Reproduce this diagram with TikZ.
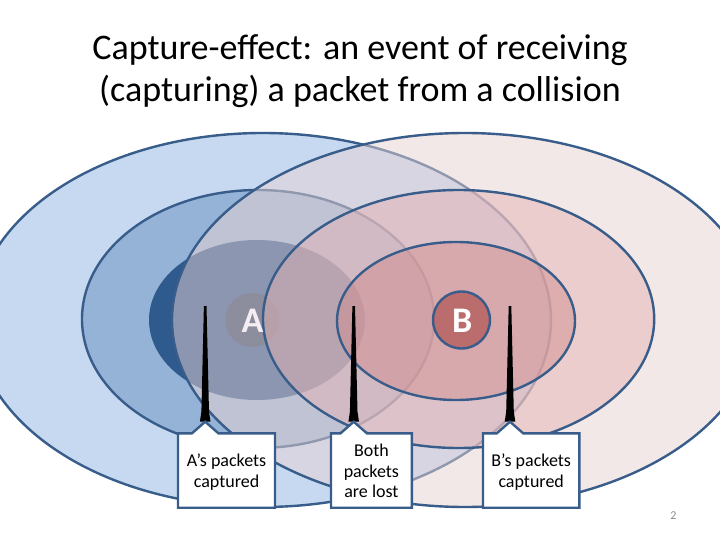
\documentclass[tikz,border=0pt]{standalone}
\usepackage{fontspec}
\setmainfont{Carlito}
\usetikzlibrary{calc}
\definecolor{navy}{HTML}{385D8A}
\definecolor{blueOuter}{HTML}{C6D9F0}
\definecolor{blueMid}{HTML}{95B3D7}
\definecolor{blueInner}{HTML}{2F5A8E}
\definecolor{circA}{HTML}{2F4767}
\definecolor{pinkOuter}{HTML}{E9D3D3}
\definecolor{pinkMid}{HTML}{E4B3B3}
\definecolor{pinkInner}{HTML}{D28E90}
\definecolor{circB}{HTML}{A1322D}
\definecolor{numgray}{HTML}{8B8B8B}
\definecolor{letterA}{HTML}{F4EEF2}
\tikzset{
  ring/.style={draw=navy, line width=2.4pt},
  veil/.style={fill opacity=0.5, draw opacity=1},
  callout/.style={draw=navy, line width=2.4pt, fill=white, line join=miter},
  boxtext/.style={align=center, font=\fontsize{18}{20.8}\selectfont, inner sep=0pt},
  titletext/.style={anchor=base, font=\fontsize{36}{43}\selectfont, inner sep=0pt},
  letter/.style={font=\fontsize{36}{40}\selectfont\bfseries, inner sep=0pt},
  pics/antenna/.style={code={
    \fill[black] (-1.3,-115.7) -- (1.3,-115.7) -- (3.8,-10) -- (5.3,0) -- (-5.3,0) -- (-3.8,-10) -- cycle;
  }}
}
\begin{document}
\begin{tikzpicture}[x=1pt,y=-1pt]
\path[use as bounding box, fill=white] (0,0) rectangle (720,540);
\begin{scope}
\clip (0,0) rectangle (720,540);
% A side (blue)
\path[ring, fill=blueOuter] (263,320) ellipse [x radius=288pt, y radius=187pt];
\path[ring, fill=blueMid] (258,319) ellipse [x radius=176pt, y radius=129pt];
\fill[blueInner] (257,320) ellipse [x radius=108pt, y radius=80pt];
\fill[circA] (252,320) circle [radius=27pt];
% B side (pink, translucent)
\path[ring, veil, fill=pinkOuter] (465,320) ellipse [x radius=293pt, y radius=187pt];
\path[ring, veil, fill=pinkMid] (458.6,319) ellipse [x radius=195.6pt, y radius=129pt];
\path[ring, veil, fill=pinkInner] (456,321) ellipse [x radius=119pt, y radius=79pt];
\path[ring, veil, fill=circB] (461.5,320) circle [radius=28.5pt];
\end{scope}
\node[letter, text=letterA] (la) at (252.5,321.3) {A};
\node[letter, text=white] (lb) at (462.3,320.7) {B};
% titles
\node[titletext] (t1) at (360,59.3) {Capture-effect: an event of receiving};
\node[titletext] (t2) at (360,102) {(capturing) a packet from a collision};
% antennas
\coordinate (apA) at (205.2,421.7);
\coordinate (apC) at (353.7,421.7);
\coordinate (apB) at (510,421.7);
\pic at (apA) {antenna};
\pic at (apC) {antenna};
\pic at (apB) {antenna};
% callouts
\path[callout] (178,433.3) -- ($(apA)+(-13.2,11.6)$) -- (apA) -- ($(apA)+(13.2,11.6)$) -- (275,433.3) -- (275,507.7) -- (178,507.7) -- cycle;
\path[callout] (331,433.3) -- ($(apC)+(-13.2,11.6)$) -- (apC) -- ($(apC)+(13.2,11.6)$) -- (411.8,433.3) -- (411.8,507.7) -- (331,507.7) -- cycle;
\path[callout] (483,433.3) -- ($(apB)+(-13.2,11.6)$) -- (apB) -- ($(apB)+(13.2,11.6)$) -- (579.4,433.3) -- (579.4,507.7) -- (483,507.7) -- cycle;
\node[boxtext] (ca) at (226.5,472) {A’s packets\\captured};
\node[boxtext] (cc) at (371.4,471) {Both\\packets\\are lost};
\node[boxtext] (cb) at (531.2,472) {B’s packets\\captured};
% slide number
\node[text=numgray, font=\fontsize{12}{14}\selectfont, inner sep=0pt] (num) at (673.3,515.5) {2};
\end{tikzpicture}
\end{document}
